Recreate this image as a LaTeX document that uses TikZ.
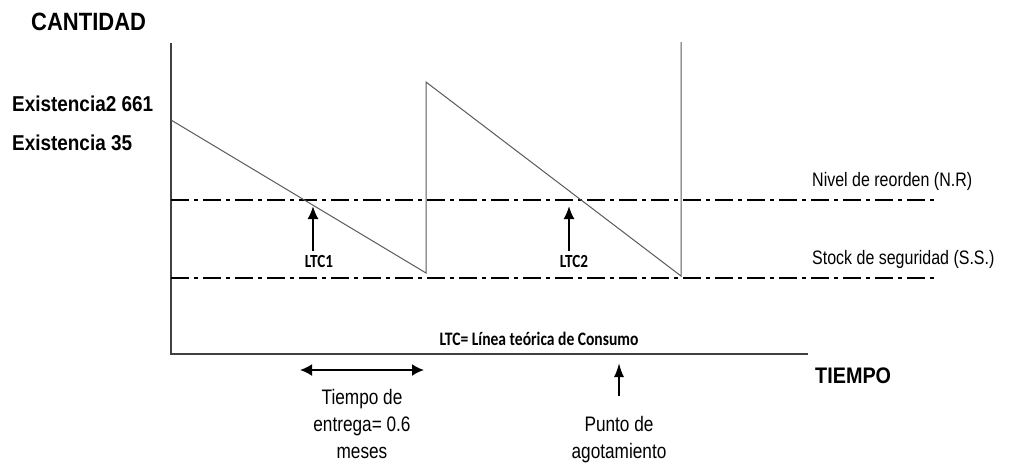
\documentclass[tikz,border=0pt]{standalone}
\usepackage{fontspec}
\usepackage{tikz}
\usetikzlibrary{arrows.meta}
\usetikzlibrary{positioning}

\newfontfamily\narrowfont[FakeStretch=0.88]{Liberation Sans}
\newfontfamily\slimfont[FakeStretch=0.82]{Liberation Sans}
\newfontfamily\calfont[FakeStretch=0.82]{Carlito}

\begin{document}
\begin{tikzpicture}[x=1pt, y=-1pt,
        axis/.style={draw=black!75, line width=1.5pt},
        ltc/.style={draw=black!65, line width=1pt},
        level/.style={draw=black, line width=2pt, dash pattern=on 18pt off 5pt on 4pt off 5pt},
        pointer/.style={draw=black, line width=2pt, -{Latex[length=13pt, width=11pt]}},
        span/.style={draw=black, line width=2pt, {Latex[length=12pt, width=12pt]}-{Latex[length=12pt, width=12pt]}},
        title/.style={inner sep=0pt, anchor=west, font=\narrowfont\bfseries\fontsize{25}{30}\selectfont},
        stock/.style={inner sep=0pt, anchor=west, font=\narrowfont\bfseries\fontsize{21.5}{26}\selectfont},
        legend/.style={inner sep=0pt, anchor=west, font=\slimfont\fontsize{19.5}{23}\selectfont},
        note/.style={inner sep=0pt, align=center, font=\slimfont\fontsize{21}{27}\selectfont},
        tag/.style={inner sep=0pt, font=\calfont\bfseries\fontsize{18.5}{22}\selectfont}
      ]
        \useasboundingbox (0,0) rectangle (1017,467);

        % axes
        \coordinate (origin) at (171,354);
        \coordinate (ytop)   at (171,43);
        \coordinate (xend)   at (808,354);
        \draw[axis] (ytop) -- (origin) -- (xend);

        % levels
        \coordinate (nrA) at (171,200);
        \coordinate (nrB) at (937,200);
        \coordinate (ssA) at (171,278);
        \coordinate (ssB) at (937,278);
        \draw[level] (nrA) -- (nrB);
        \draw[level] (ssA) -- (ssB);

        % sawtooth
        \draw[ltc] (171,120) -- (426,273) -- (426,82) -- (681,276) -- (681,42);

        % labels
        \node[title] (cantidad) at (31,22)  {CANTIDAD};
        \node[stock] (exist2)   at (12,104) {Existencia2 661};
        \node[stock] (exist1)   at (12,143) {Existencia 35};
        \node[legend] (nr)      at (812,181) {Nivel de reorden (N.R)};
        \node[legend] (ss)      at (812,259) {Stock de seguridad (S.S.)};
        \node[title, font=\narrowfont\bfseries\fontsize{22.5}{26}\selectfont] (tiempo) at (815,376) {TIEMPO};

        % LTC pointers
        \node[tag] (ltc1) at (319,261) {LTC1};
        \node[tag] (ltc2) at (574,261) {LTC2};
        \coordinate (ltc1tip) at (313,206);
        \coordinate (ltc2tip) at (569,206);
        \draw[pointer] (ltc1.north -| ltc1tip) ++(0,-4) -- (ltc1tip);
        \draw[pointer] (ltc2.north -| ltc2tip) ++(0,-4) -- (ltc2tip);

        \node[tag, font=\calfont\bfseries\fontsize{19}{22}\selectfont] (legend) at (539,339) {LTC= Línea teórica de Consumo};

        % lead time
        \coordinate (leadA) at (300,370);
        \coordinate (leadB) at (424,370);
        \draw[span] (leadA) -- (leadB);
        \node[note] (lead) at (362,424) {Tiempo de\\entrega= 0.6\\meses};

        % stock-out point
        \node[note] (agota) at (619,440) {Punto de\\agotamiento};
        \coordinate (agotatip) at (619,363);
        \draw[pointer, line width=1.8pt, -{Latex[length=14pt, width=10pt]}] (619,396) -- (agotatip);
      \end{tikzpicture}
\end{document}
